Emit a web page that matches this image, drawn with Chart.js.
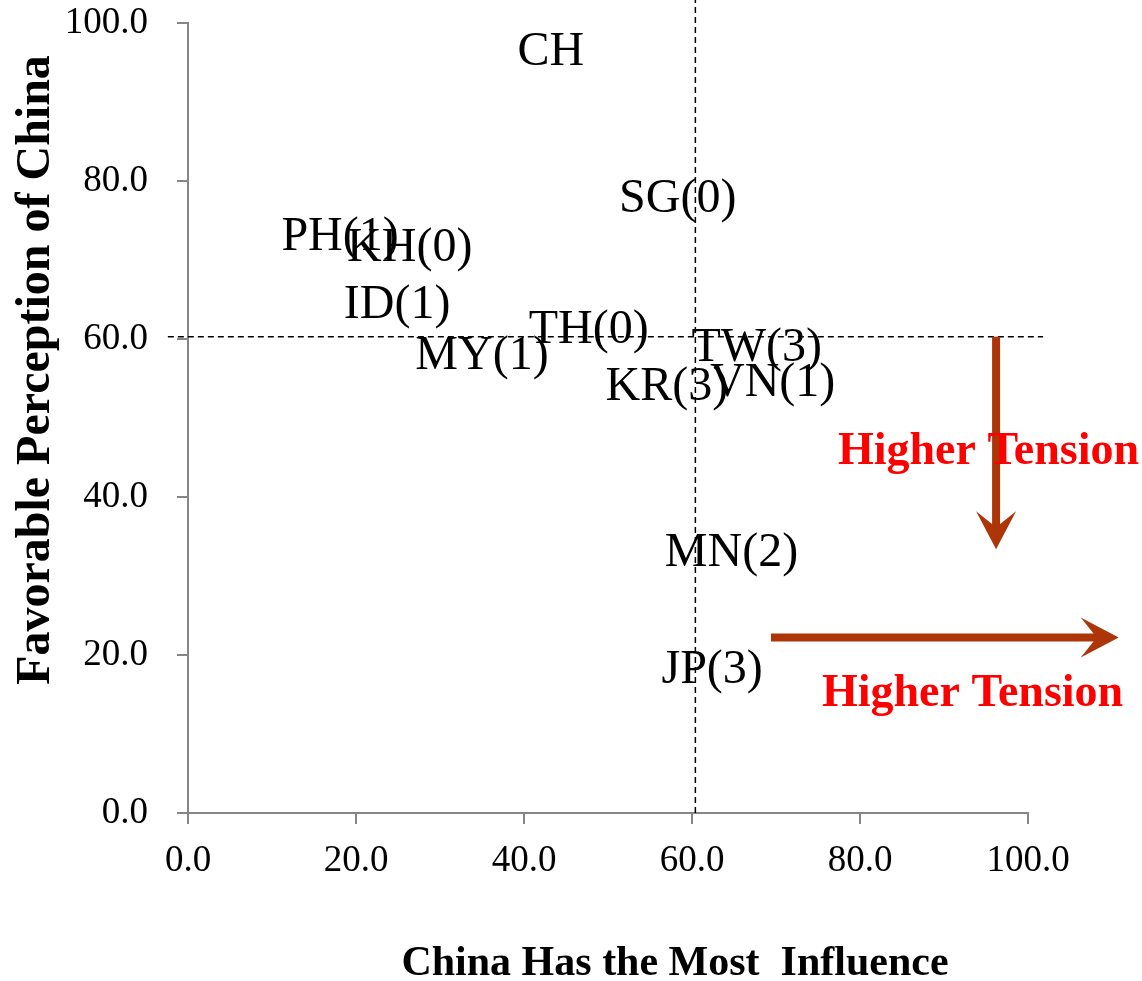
<!DOCTYPE html>
<html>
<head>
<meta charset="utf-8">
<script src="https://cdn.jsdelivr.net/npm/chart.js@4.4.0/dist/chart.umd.min.js"></script>
<style>
  html, body { margin: 0; padding: 0; background: #fff; }
  #wrap { width: 1142px; height: 981px; }
</style>
</head>
<body>
<div id="wrap"><canvas id="grafico"></canvas></div>
<script>
// --- DATOS ---
const paises = ["CH", "SG(0)", "PH(1)", "KH(0)", "ID(1)", "TH(0)", "MY(1)", "TW(3)", "KR(3)", "VN(1)", "MN(2)", "JP(3)"];
const influencia = [43.2, 58.3, 18.1, 26.4, 24.9, 47.7, 35.0, 67.7, 57.0, 69.6, 64.7, 62.4];
const favorable = [96.6, 78.0, 73.2, 71.9, 64.6, 61.5, 58.2, 59.2, 54.2, 54.8, 33.3, 18.4];
const ticksEje = [0, 20, 40, 60, 80, 100];

// lineas de promedio
const promInfluencia = 60.4;
const promFavorable = 60.3;

const serif = '"Liberation Serif", "Times New Roman", serif';
const colorFlecha = '#AD3508';

// --- ANOTACIONES (flechas y textos) en coordenadas de datos ---
const flechas = [
    { desde: [96.2, 60.3], hasta: [96.2, 33.4] },
    { desde: [69.4, 22.2], hasta: [110.8, 22.2] }
];
const textosTension = [
    { texto: "Higher Tension", x: 95.3, y: 46.0 },
    { texto: "Higher Tension", x: 93.4, y: 15.4 }
];

function dibujarFlecha(ctx, x1, y1, x2, y2) {
    const ang = Math.atan2(y2 - y1, x2 - x1);
    const largo = 38, ancho = 20, muesca = 22;
    ctx.save();
    ctx.translate(x2, y2);
    ctx.rotate(ang);
    const len = Math.hypot(x2 - x1, y2 - y1);
    ctx.strokeStyle = colorFlecha;
    ctx.lineWidth = 8;
    ctx.beginPath();
    ctx.moveTo(-len, 0);
    ctx.lineTo(-muesca + 2, 0);
    ctx.stroke();
    ctx.fillStyle = colorFlecha;
    ctx.beginPath();
    ctx.moveTo(0, 0);
    ctx.lineTo(-largo, -ancho);
    ctx.lineTo(-muesca, 0);
    ctx.lineTo(-largo, ancho);
    ctx.closePath();
    ctx.fill();
    ctx.restore();
}

const pluginEtiquetas = {
    id: 'etiquetas',
    afterDatasetsDraw(chart) {
        const { ctx, scales: { x, y } } = chart;
        const ajuste = 3; // la caja de texto queda un poco alta con 'middle'
        ctx.save();
        ctx.fillStyle = '#000';
        ctx.font = '48px ' + serif;
        ctx.textAlign = 'center';
        ctx.textBaseline = 'middle';
        paises.forEach((p, i) => {
            ctx.fillText(p, x.getPixelForValue(influencia[i]), y.getPixelForValue(favorable[i]) + ajuste);
        });

        // flechas
        flechas.forEach(f => {
            dibujarFlecha(ctx,
                x.getPixelForValue(f.desde[0]), y.getPixelForValue(f.desde[1]),
                x.getPixelForValue(f.hasta[0]), y.getPixelForValue(f.hasta[1]));
        });

        // textos rojos
        ctx.fillStyle = '#FF0000';
        ctx.font = 'bold 46px ' + serif;
        textosTension.forEach(t => {
            ctx.fillText(t.texto, x.getPixelForValue(t.x), y.getPixelForValue(t.y) + ajuste);
        });

        // titulos de ejes
        ctx.fillStyle = '#000';
        ctx.font = 'bold 42px ' + serif;
        ctx.fillText("China Has the Most  Influence", 675, 964);
        ctx.translate(37, 370);
        ctx.rotate(-Math.PI / 2);
        ctx.font = 'bold 48px ' + serif;
        ctx.fillText("Favorable Perception of China", 0, 0);
        ctx.restore();
    }
};

const lineaPunteada = {
    type: 'line',
    showLine: true,
    borderColor: '#000',
    borderWidth: 1.5,
    borderDash: [6, 4],
    pointRadius: 0,
    clip: false,
    fill: false
};

new Chart(document.getElementById('grafico'), {
    type: 'scatter',
    data: {
        datasets: [
            {
                label: 'Paises',
                data: paises.map((p, i) => ({ x: influencia[i], y: favorable[i] })),
                pointRadius: 0
            },
            { ...lineaPunteada, label: 'v', data: [{ x: promInfluencia, y: 0 }, { x: promInfluencia, y: 102.9 }] },
            { ...lineaPunteada, label: 'h', data: [{ x: -2.4, y: promFavorable }, { x: 101.8, y: promFavorable }] }
        ]
    },
    options: {
        responsive: true,
        maintainAspectRatio: false,
        animation: false,
        layout: { padding: { left: 0, top: 23, right: 114, bottom: 0 } },
        plugins: { legend: { display: false }, tooltip: { enabled: false } },
        scales: {
            x: {
                type: 'linear',
                min: 0, max: 100,
                afterBuildTicks: (s) => { s.ticks = ticksEje.map(v => ({ value: v })); },
                afterFit: (s) => { s.height = 168; s.paddingLeft = 0; s.paddingRight = 0; },
                grid: { drawOnChartArea: false, drawTicks: true, tickLength: 11, color: '#868686', lineWidth: 2 },
                border: { display: true, color: '#868686', width: 2 },
                ticks: {
                    padding: 15,
                    color: '#000',
                    font: { family: serif, size: 37 },
                    maxRotation: 0,
                    callback: (v) => Number(v).toFixed(1)
                }
            },
            y: {
                type: 'linear',
                min: 0, max: 100,
                afterBuildTicks: (s) => { s.ticks = ticksEje.map(v => ({ value: v })); },
                afterFit: (s) => { s.width = 188; s.paddingTop = 0; s.paddingBottom = 0; },
                grid: { drawOnChartArea: false, drawTicks: true, tickLength: 11, color: '#868686', lineWidth: 2 },
                border: { display: true, color: '#868686', width: 2 },
                ticks: {
                    padding: 29,
                    color: '#000',
                    font: { family: serif, size: 37 },
                    callback: (v) => Number(v).toFixed(1)
                }
            }
        }
    },
    plugins: [pluginEtiquetas]
});
</script>
</body>
</html>
